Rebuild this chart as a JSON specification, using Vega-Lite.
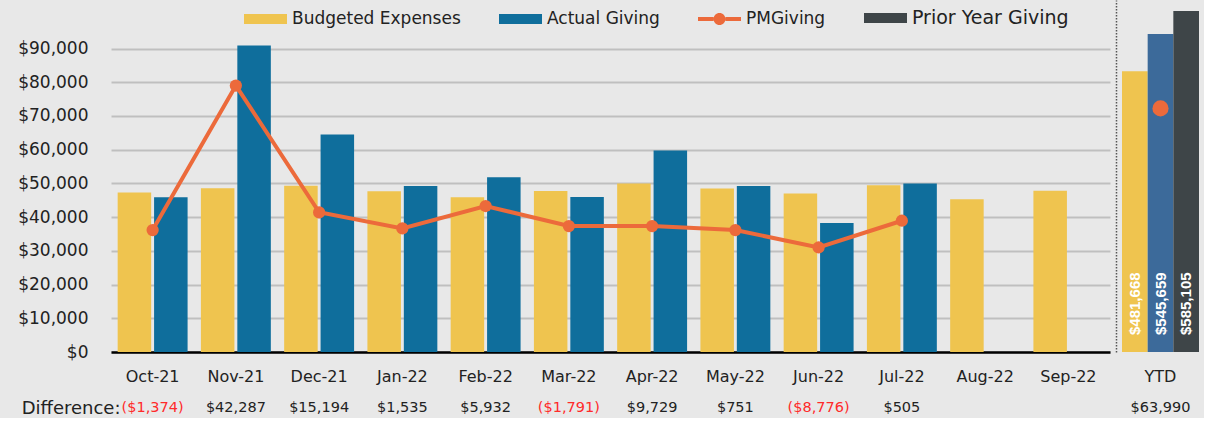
{
  "$schema": "https://vega.github.io/schema/vega-lite/v6.json",
  "background": "#E8E8E8",
  "padding": {"left": 17, "top": 0, "right": 5, "bottom": 0},
  "config": {
    "view": {"stroke": null},
    "font": "DejaVu Sans",
    "axis": {"labelFont": "DejaVu Sans", "labelColor": "#222222"}
  },
  "datasets": {
    "bars": [
      {"month": "Oct-21", "series": "Budgeted Expenses", "amount": 47300},
      {"month": "Oct-21", "series": "Actual Giving", "amount": 45926},
      {"month": "Nov-21", "series": "Budgeted Expenses", "amount": 48600},
      {"month": "Nov-21", "series": "Actual Giving", "amount": 90887},
      {"month": "Dec-21", "series": "Budgeted Expenses", "amount": 49300},
      {"month": "Dec-21", "series": "Actual Giving", "amount": 64494},
      {"month": "Jan-22", "series": "Budgeted Expenses", "amount": 47700},
      {"month": "Jan-22", "series": "Actual Giving", "amount": 49235},
      {"month": "Feb-22", "series": "Budgeted Expenses", "amount": 45920},
      {"month": "Feb-22", "series": "Actual Giving", "amount": 51852},
      {"month": "Mar-22", "series": "Budgeted Expenses", "amount": 47750},
      {"month": "Mar-22", "series": "Actual Giving", "amount": 45959},
      {"month": "Apr-22", "series": "Budgeted Expenses", "amount": 50000},
      {"month": "Apr-22", "series": "Actual Giving", "amount": 59729},
      {"month": "May-22", "series": "Budgeted Expenses", "amount": 48500},
      {"month": "May-22", "series": "Actual Giving", "amount": 49251},
      {"month": "Jun-22", "series": "Budgeted Expenses", "amount": 47000},
      {"month": "Jun-22", "series": "Actual Giving", "amount": 38224},
      {"month": "Jul-22", "series": "Budgeted Expenses", "amount": 49450},
      {"month": "Jul-22", "series": "Actual Giving", "amount": 49955},
      {"month": "Aug-22", "series": "Budgeted Expenses", "amount": 45300},
      {"month": "Sep-22", "series": "Budgeted Expenses", "amount": 47860}
    ],
    "pm": [
      {"month": "Oct-21", "amount": 36160},
      {"month": "Nov-21", "amount": 79020},
      {"month": "Dec-21", "amount": 41430},
      {"month": "Jan-22", "amount": 36660},
      {"month": "Feb-22", "amount": 43300},
      {"month": "Mar-22", "amount": 37350},
      {"month": "Apr-22", "amount": 37350},
      {"month": "May-22", "amount": 36160},
      {"month": "Jun-22", "amount": 31000},
      {"month": "Jul-22", "amount": 38930}
    ],
    "diff": [
      {"month": "Oct-21", "diff": -1374},
      {"month": "Nov-21", "diff": 42287},
      {"month": "Dec-21", "diff": 15194},
      {"month": "Jan-22", "diff": 1535},
      {"month": "Feb-22", "diff": 5932},
      {"month": "Mar-22", "diff": -1791},
      {"month": "Apr-22", "diff": 9729},
      {"month": "May-22", "diff": 751},
      {"month": "Jun-22", "diff": -8776},
      {"month": "Jul-22", "diff": 505}
    ],
    "ytd": [
      {"period": "YTD", "series": "Budgeted Expenses", "amount": 481668},
      {"period": "YTD", "series": "Actual Giving", "amount": 545659},
      {"period": "YTD", "series": "Prior Year Giving", "amount": 585105}
    ],
    "ytdpm": [{"period": "YTD", "amount": 418000}],
    "ytddiff": [{"period": "YTD", "diff": 63990}]
  },
  "columns": 2,
  "spacing": {"row": 46, "column": 12},
  "bounds": "flush",
  "align": "each",
  "resolve": {
    "scale": {"x": "independent", "y": "independent", "xOffset": "independent", "color": "independent"},
    "axis": {"x": "independent", "y": "independent"},
    "legend": {"color": "independent"}
  },
  "concat": [
    {
      "width": 999,
      "height": 352,
      "encoding": {
        "x": {
          "field": "month", "type": "nominal",
          "scale": {"type": "band", "domain": ["Oct-21","Nov-21","Dec-21","Jan-22","Feb-22","Mar-22","Apr-22","May-22","Jun-22","Jul-22","Aug-22","Sep-22"], "paddingInner": 0.16, "paddingOuter": 0.08},
          "axis": {"title": null, "labelAngle": 0, "ticks": false, "domainColor": "#000000", "domainWidth": 2.5, "labelFontSize": 16, "labelPadding": 16, "grid": false}
        },
        "y": {
          "field": "amount", "type": "quantitative",
          "scale": {"domain": [0, 104400], "nice": false},
          "axis": {"title": null, "values": [0,10000,20000,30000,40000,50000,60000,70000,80000,90000], "format": "$,.0f", "labelFontSize": 17, "labelPadding": 23, "ticks": false, "domain": false, "grid": true, "gridColor": "#BFBFBF", "gridWidth": 2}
        }
      },
      "layer": [
        {
          "data": {"name": "bars"},
          "mark": {"type": "bar"},
          "encoding": {
            "xOffset": {
              "field": "series", "type": "nominal",
              "scale": {"domain": ["Budgeted Expenses", "Actual Giving"], "paddingInner": 0.08, "paddingOuter": 0}
            },
            "color": {
              "field": "series", "type": "nominal",
              "scale": {"domain": ["Budgeted Expenses", "Actual Giving", "PMGiving", "Prior Year Giving"], "range": ["#EFC44F", "#0F6E9C", "#EC6A3B", "#3E4548"]},
              "legend": {
                "orient": "none", "legendX": 133, "legendY": 8, "direction": "horizontal",
                "title": null, "labelFontSize": 17, "labelFont": "DejaVu Sans", "labelColor": "#222222",
                "symbolSize": 400, "symbolType": "M-1,-0.5H3.3V0.5H-1Z", "symbolStrokeWidth": 0,
                "columnPadding": 38, "labelOffset": 28, "padding": 0, "labelLimit": 300,
                "encode": {
                  "symbols": {"update": {"shape": {"signal": "datum.value === 'PMGiving' ? 'M-1,-0.2H0.55V0.2H-1Z M1.75,-0.2H3.3V0.2H1.75Z M0.55,0A0.6,0.6 0 1,0 1.75,0A0.6,0.6 0 1,0 0.55,0Z' : 'M-1,-0.5H3.3V0.5H-1Z'"}}},
                  "labels": {"update": {"fontSize": {"signal": "datum.value === 'Prior Year Giving' ? 19 : 17"}}}
                }
              }
            }
          }
        },
        {
          "data": {"name": "pm"},
          "mark": {"type": "line", "color": "#EC6A3B", "strokeWidth": 4}
        },
        {
          "data": {"name": "pm"},
          "mark": {"type": "point", "filled": true, "color": "#EC6A3B", "opacity": 1, "size": 150}
        }
      ]
    },
    {
      "width": 77,
      "height": 352,
      "layer": [
        {
          "data": {"name": "ytd"},
          "mark": {"type": "bar"},
          "encoding": {
            "x": {
              "field": "period", "type": "nominal",
              "scale": {"paddingInner": 0, "paddingOuter": 0},
              "axis": {"title": null, "labelAngle": 0, "ticks": false, "domain": false, "labelFontSize": 16, "labelPadding": 16}
            },
            "xOffset": {
              "field": "series", "type": "nominal",
              "scale": {"domain": ["Budgeted Expenses", "Actual Giving", "Prior Year Giving"], "paddingInner": 0, "paddingOuter": 0}
            },
            "y": {
              "field": "amount", "type": "quantitative",
              "scale": {"domain": [0, 603981], "nice": false},
              "axis": {"title": null, "labels": false, "ticks": false, "grid": false, "domain": true, "domainColor": "#555555", "domainDash": [1.5, 1.5], "domainWidth": 1.5, "offset": 6}
            },
            "color": {
              "field": "series", "type": "nominal",
              "scale": {"domain": ["Budgeted Expenses", "Actual Giving", "Prior Year Giving"], "range": ["#EFC44F", "#3C6A9A", "#3E4548"]},
              "legend": null
            }
          }
        },
        {
          "data": {"name": "ytd"},
          "mark": {"type": "text", "angle": 270, "align": "left", "baseline": "middle", "dx": 17, "color": "#FFFFFF", "font": "Liberation Sans", "fontWeight": "bold", "fontSize": 15},
          "encoding": {
            "x": {"field": "period", "type": "nominal"},
            "xOffset": {"field": "series", "type": "nominal"},
            "y": {"datum": 0, "type": "quantitative"},
            "text": {"field": "amount", "type": "quantitative", "format": "$,"}
          }
        },
        {
          "data": {"name": "ytdpm"},
          "mark": {"type": "point", "filled": true, "color": "#EC6A3B", "opacity": 1, "size": 260},
          "encoding": {
            "x": {"field": "period", "type": "nominal"},
            "y": {"field": "amount", "type": "quantitative"}
          }
        }
      ]
    },
    {
      "width": 999,
      "height": 20,
      "data": {"name": "diff"},
      "mark": {"type": "text", "fontSize": 14.5, "font": "DejaVu Sans"},
      "encoding": {
        "x": {
          "field": "month", "type": "nominal",
          "scale": {"type": "band", "domain": ["Oct-21","Nov-21","Dec-21","Jan-22","Feb-22","Mar-22","Apr-22","May-22","Jun-22","Jul-22","Aug-22","Sep-22"], "paddingInner": 0.16, "paddingOuter": 0.08},
          "axis": null
        },
        "y": {
          "datum": "Difference:", "type": "nominal",
          "axis": {"title": null, "domain": false, "ticks": false, "labelFontSize": 18, "labelPadding": -9, "labelColor": "#222222"}
        },
        "text": {"field": "diff", "type": "quantitative", "format": "($,"},
        "color": {"condition": {"test": "datum.diff < 0", "value": "#FF2A2A"}, "value": "#222222"}
      }
    },
    {
      "width": 77,
      "height": 20,
      "data": {"name": "ytddiff"},
      "mark": {"type": "text", "fontSize": 14.5, "font": "DejaVu Sans", "color": "#222222"},
      "encoding": {
        "x": {"field": "period", "type": "nominal", "axis": null},
        "y": {"datum": "Difference:", "type": "nominal", "axis": null},
        "text": {"field": "diff", "type": "quantitative", "format": "$,"}
      }
    }
  ]
}
